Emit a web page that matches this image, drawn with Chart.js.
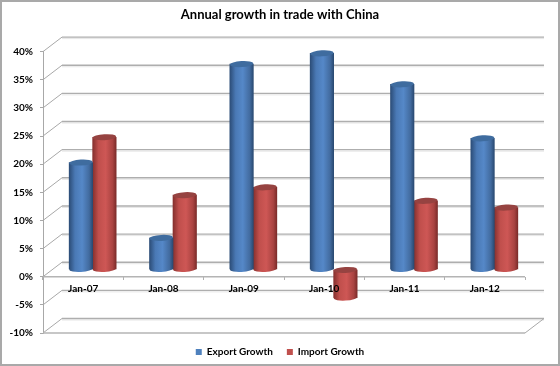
<!DOCTYPE html>
<html>
<head>
<meta charset="utf-8">
<style>
  html, body { margin: 0; padding: 0; background: #fff; }
  canvas { display: block; }
</style>
<script src="https://cdn.jsdelivr.net/npm/chart.js@4"></script>
</head>
<body>
<canvas id="chart" width="560" height="366"></canvas>
<script>
const categories = ["Jan-07", "Jan-08", "Jan-09", "Jan-10", "Jan-11", "Jan-12"];
const exportGrowth = [19, 5.6, 36.5, 38.4, 32.9, 23.3];
const importGrowth = [23.5, 13.2, 14.6, -5, 12.2, 11];

// depth of the fake 3d box
const depthX = 19;
const depthY = 14.5;
const barW = 23.5;

function cylinderFill(stops, solid) {
  return function (c) {
    if (c.type !== "data") return solid;
    const x = c.chart.scales.x.getPixelForValue(c.dataIndex);
    if (!isFinite(x)) return solid; // scale not laid out yet
    const cx = x + (c.datasetIndex === 0 ? -barW / 2 : barW / 2);
    const g = c.chart.ctx.createLinearGradient(cx - barW / 2, 0, cx + barW / 2, 0);
    stops.forEach((s) => g.addColorStop(s[0], s[1]));
    return g;
  };
}

const blueStops = [[0, "#2c4d78"], [0.25, "#4a79b5"], [0.55, "#5588c8"], [0.85, "#426b9f"], [1, "#2a4a72"]];
const redStops = [[0, "#86302e"], [0.25, "#c04f4c"], [0.55, "#ce5755"], [0.85, "#a94341"], [1, "#7c2c2a"]];
const capColors = ["#3f6c9f", "#964341"];
const legendColors = ["#4f81bd", "#c0504d"];

const box3d = {
  id: "box3d",
  beforeDraw(chart) {
    const ctx = chart.ctx;
    ctx.save();
    ctx.strokeStyle = "#a9a9a9";
    ctx.lineWidth = 2;
    ctx.strokeRect(1, 1, chart.width - 2, chart.height - 2);
    ctx.restore();
  },
  beforeDatasetsDraw(chart) {
    const ctx = chart.ctx;
    const { x, y } = chart.scales;
    const left = x.left, right = x.right;
    ctx.save();
    y.ticks.forEach((t) => {
      const py = y.getPixelForValue(t.value);
      ctx.strokeStyle = "#e6e6e6";
      ctx.lineWidth = 1;
      ctx.beginPath();
      ctx.moveTo(left + depthX, py - depthY + 1.5);
      ctx.lineTo(right + depthX, py - depthY + 1.5);
      ctx.stroke();
      ctx.strokeStyle = "#a8a8a8";
      ctx.beginPath();
      ctx.moveTo(left, py);
      ctx.lineTo(left + depthX, py - depthY);
      ctx.stroke();
      ctx.strokeStyle = "#aeaeae";
      ctx.lineWidth = 1.4;
      ctx.beginPath();
      ctx.moveTo(left + depthX, py - depthY);
      ctx.lineTo(right + depthX, py - depthY);
      ctx.stroke();
    });
    // floor at the bottom and axis line at zero
    const bottom = y.getPixelForValue(-10);
    ctx.strokeStyle = "#a8a8a8";
    ctx.lineWidth = 1;
    ctx.beginPath();
    ctx.moveTo(right, bottom);
    ctx.lineTo(right + depthX, bottom - depthY);
    ctx.stroke();
    ctx.strokeStyle = "#b4b4b4";
    ctx.lineWidth = 1.5;
    ctx.beginPath();
    ctx.moveTo(left, bottom);
    ctx.lineTo(right, bottom);
    ctx.stroke();
    const zero = y.getPixelForValue(0);
    ctx.beginPath();
    ctx.moveTo(left, zero);
    ctx.lineTo(right, zero);
    ctx.stroke();
    ctx.restore();
    // bars stand in the middle of the box
    ctx.save();
    ctx.translate(depthX / 2, -depthY / 2);
  },
  beforeDatasetDraw(chart, args) {
    const ctx = chart.ctx;
    const stops = args.index === 0 ? blueStops : redStops;
    args.meta.data.forEach((bar) => {
      const g = ctx.createLinearGradient(bar.x - barW / 2, 0, bar.x + barW / 2, 0);
      stops.forEach((s) => g.addColorStop(s[0], s[1]));
      ctx.fillStyle = g;
      ctx.beginPath();
      ctx.ellipse(bar.x, Math.max(bar.y, bar.base), bar.width / 2, 3, -0.06, 0, Math.PI * 2);
      ctx.fill();
    });
  },
  afterDatasetDraw(chart, args) {
    const ctx = chart.ctx;
    ctx.fillStyle = capColors[args.index];
    args.meta.data.forEach((bar) => {
      ctx.beginPath();
      ctx.ellipse(bar.x, Math.min(bar.y, bar.base), bar.width / 2, 3, -0.06, 0, Math.PI * 2);
      ctx.fill();
    });
  },
  afterDatasetsDraw(chart) {
    chart.ctx.restore();
  },
};

const labelFont = { family: "Lato", size: 10, weight: "bold" };

new Chart(document.getElementById("chart"), {
  type: "bar",
  data: {
    labels: categories,
    datasets: [
      {
        label: "Export Growth",
        data: exportGrowth,
        backgroundColor: cylinderFill(blueStops, "#4f81bd"),
        barThickness: barW,
        borderWidth: 0,
        clip: false,
      },
      {
        label: "Import Growth",
        data: importGrowth,
        backgroundColor: cylinderFill(redStops, "#c0504d"),
        barThickness: barW,
        borderWidth: 0,
        clip: false,
      },
    ],
  },
  options: {
    responsive: false,
    animation: false,
    layout: { padding: { top: 0, bottom: -1, left: 0, right: 0 } },
    scales: {
      x: {
        position: { y: 0 },
        border: { display: false },
        grid: { drawOnChartArea: false, drawTicks: true, tickLength: 3, color: "#b0b0b0" },
        // z above the bars, Jan-10 sits on the red bar in the original
        ticks: { z: 1, color: "#000", font: labelFont, padding: 3, maxRotation: 0 },
      },
      y: {
        min: -10,
        max: 40,
        border: { color: "#a8a8a8", width: 1 },
        grid: { drawOnChartArea: false, tickLength: 3, color: "#a8a8a8" },
        ticks: {
          stepSize: 5,
          color: "#000",
          font: labelFont,
          padding: 7,
          callback: (v) => v + "%",
        },
        afterFit: (s) => { s.width = 43; },
      },
      // only keeps room on the right for the box depth
      spacer: {
        position: "right",
        border: { display: false },
        grid: { display: false },
        ticks: { display: false },
        afterFit: (s) => { s.width = 35; },
      },
    },
    plugins: {
      title: {
        display: true,
        text: "Annual growth in trade with China",
        color: "#000",
        font: { family: "Lato", size: 13, weight: "bold" },
        padding: { top: 7, bottom: 29 },
      },
      legend: {
        position: "bottom",
        labels: {
          color: "#000",
          font: labelFont,
          boxWidth: 6,
          boxHeight: 6,
          padding: 14,
          generateLabels(chart) {
            return Chart.defaults.plugins.legend.labels.generateLabels(chart).map((item, i) => {
              item.fillStyle = legendColors[i];
              return item;
            });
          },
        },
      },
      tooltip: { enabled: false },
    },
  },
  plugins: [box3d],
});
</script>
</body>
</html>
